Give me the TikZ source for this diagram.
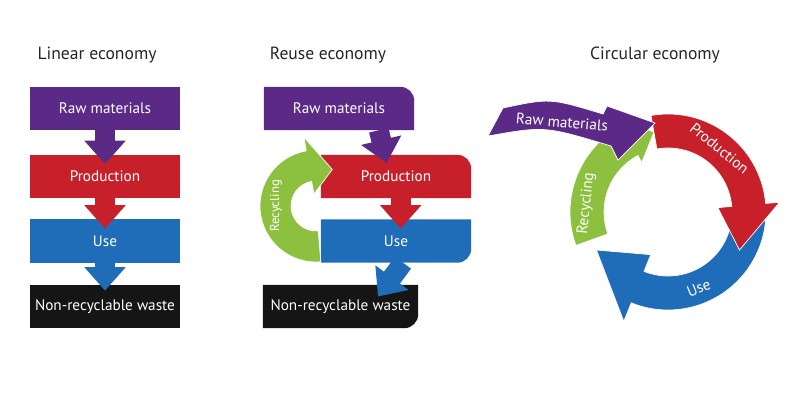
\documentclass[tikz,border=0pt]{standalone}
\usepackage{fontspec}
\setmainfont{PT Sans}
\usetikzlibrary{arrows.meta,backgrounds}
\definecolor{rawc}{HTML}{5B2A86}
\definecolor{prodc}{HTML}{C8202A}
\definecolor{usec}{HTML}{1F6DB8}
\definecolor{recc}{HTML}{8DC03F}
\definecolor{wastec}{HTML}{151515}
\tikzstyle{box}=[minimum width=4.5cm, minimum height=1.29cm, text=white, font=\fontsize{13}{15}\selectfont, inner sep=0pt]
\tikzstyle{title}=[font=\fontsize{15}{18}\selectfont, text=black!85]
\tikzstyle{flow}=[line width=17pt, -{Triangle[width=34pt,length=20pt]}]
\tikzstyle{lab}=[text=white, font=\fontsize{13}{15}\selectfont]
% ring arrow: colour, start, head base, tip, inner r, outer r, head inner, head outer, mid r
\newcommand{\ringarrow}[9]{%
  \fill[#1, draw=white, line width=0.6pt] (#2:#5) arc[start angle=#2, end angle=#3, radius=#5] -- (#3:#7) -- (#4:#9) -- (#3:#8) -- (#3:#6) arc[start angle=#3, end angle=#2, radius=#6] -- cycle;}

\begin{document}
\begin{tikzpicture}[x=0.03cm,y=0.03cm]
\useasboundingbox (0,0) rectangle (800,412);

% titles
\node[title] (tlin) at (97,357) {Linear economy};
\node[title] (treu) at (328,357) {Reuse economy};
\node[title] (tcir) at (655,357) {Circular economy};

% linear economy
\node[box, fill=rawc] (raw1) at (105,303.5) {Raw materials};
\node[box, fill=prodc] (prod1) at (105,235.5) {Production};
\node[box, fill=usec] (use1) at (105,171) {Use};
\node[box, fill=wastec] (waste1) at (105,105.5) {Non-recyclable waste};
\draw[flow, rawc] (raw1.south) -- ([yshift=-8pt]prod1.north);
\draw[flow, prodc] (prod1.south) -- ([yshift=-8pt]use1.north);
\draw[flow, usec] (use1.south) -- ([yshift=-5pt]waste1.north);

% reuse economy
\node[box] (raw2) at (339,303.5) {Raw materials};
\node[box] (prod2) at (396,235.5) {Production};
\node[box] (use2) at (396,171) {Use};
\node[box, minimum width=4.65cm] (waste2) at (340.5,105.5) {Non-recyclable waste};
\begin{scope}[on background layer]
  \fill[rawc] (raw2.south west) -- (raw2.north west) [rounded corners=12pt] -- (raw2.north east) [sharp corners] -- (raw2.south east) -- cycle;
  \fill[prodc] (prod2.south west) -- (prod2.north west) [rounded corners=12pt] -- (prod2.north east) [sharp corners] -- (prod2.south east) -- cycle;
  \fill[usec] (use2.north west) -- (use2.north east) [rounded corners=12pt] -- (use2.south east) [sharp corners] -- (use2.south west) -- cycle;
  \fill[wastec] (waste2.north west) -- (waste2.north east) [rounded corners=12pt] -- (waste2.south east) [sharp corners] -- (waste2.south west) -- cycle;
\end{scope}
\coordinate (rawout) at ([xshift=34]raw2.south);
\coordinate (prodin) at ([xshift=-8]prod2.north);
\draw[flow, rawc] (rawout) -- ([yshift=-7pt]prodin);
\coordinate (prodout) at ([xshift=4]prod2.south);
\draw[flow, prodc] (prodout) -- ([yshift=-8pt]use2.north -| prodout);
\coordinate (useout) at ([xshift=6]use2.south);
\coordinate (wastein) at ([xshift=32]waste2.north);
\draw[flow, usec] (useout) -- ([yshift=-10pt]wastein);
\begin{scope}[shift={(316,206)}]
  \ringarrow{recc}{-85}{-260}{-294}{25}{56}{12}{70}{40}
  \node[lab, rotate=90, font=\fontsize{11}{13}\selectfont] (rec2) at (180:40) {Recycling};
\end{scope}

% circular economy
\begin{scope}[shift={(668,200)}]
  \ringarrow{recc}{200}{118}{100}{64}{98}{56}{108}{81}
  \ringarrow{usec}{0}{-112}{-152}{64}{98}{46}{118}{81}
  \ringarrow{prodc}{100}{5}{-28}{64}{98}{50}{112}{81}
  \node[lab, rotate=-39] (prod3) at (51:82) {Production};
  \node[lab, rotate=22] (use3) at (-68:82) {Use};
  \node[lab, rotate=84] (rec3) at (174:82) {Recycling};
\end{scope}
\fill[rawc, draw=white, line width=0.6pt] (503,304) .. controls (550,314) .. (603,298) -- (607,306) -- (655,289) -- (618,252) -- (611,266) .. controls (545,286) .. (488,276) -- cycle;
\node[lab, rotate=-5] (raw3) at (562,290) {Raw materials};
\end{tikzpicture}
\end{document}
